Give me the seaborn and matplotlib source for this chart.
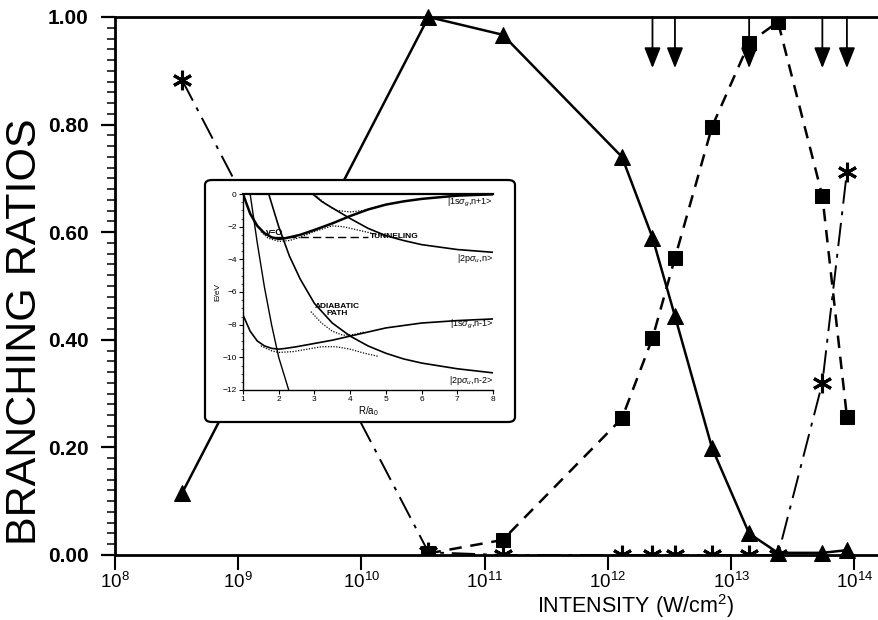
import matplotlib
matplotlib.use("Agg")
import matplotlib.pyplot as plt
import seaborn as sns
from matplotlib.patches import FancyBboxPatch
from matplotlib.ticker import MultipleLocator, LogFormatterMathtext, NullLocator, FixedLocator

# ---------------- main data ----------------
intensity = [3.5e8, 3.5e10, 1.4e11, 1.3e12, 2.3e12, 3.5e12, 7.0e12, 1.4e13, 2.4e13, 5.5e13, 8.7e13]
triangle_ratio = [0.115, 1.0, 0.967, 0.74, 0.59, 0.444, 0.199, 0.040, 0.004, 0.004, 0.009]
square_intensity = [3.5e10, 1.4e11, 1.3e12, 2.3e12, 3.5e12, 7.0e12, 1.4e13, 2.4e13, 5.5e13, 8.7e13]
square_ratio = [0.003, 0.028, 0.254, 0.403, 0.552, 0.796, 0.952, 0.991, 0.667, 0.257]
star_ratio = [0.883, 0.005, 0.0, 0.0, 0.0, 0.0, 0.0, 0.0, 0.0, 0.32, 0.712]
arrow_intensity = [2.3e12, 3.5e12, 1.4e13, 5.5e13, 8.7e13]
x_ticks = [1e8, 1e9, 1e10, 1e11, 1e12, 1e13, 1e14]
y_ticks = [0.0, 0.2, 0.4, 0.6, 0.8, 1.0]

# ---------------- inset data (R in a0, E in eV) ----------------
R_1sg_up = [1.0, 1.2, 1.4, 1.6, 1.8, 2.0, 2.2, 2.6, 3.0, 3.5, 4.0, 4.5, 5.0, 5.5, 6.0, 7.0, 8.0]
E_1sg_up = [0.0, -1.2, -1.95, -2.4, -2.65, -2.75, -2.7, -2.5, -2.2, -1.8, -1.35, -0.95, -0.65, -0.45, -0.3, -0.1, -0.02]
R_2pu_n = [2.95, 3.2, 3.5, 4.0, 4.5, 5.0, 5.5, 6.0, 7.0, 8.0]
E_2pu_n = [0.0, -0.45, -0.85, -1.5, -2.1, -2.55, -2.85, -3.1, -3.4, -3.57]
R_1sg_low = [1.0, 1.2, 1.4, 1.6, 1.8, 2.0, 2.2, 2.5, 3.0, 3.5, 4.0, 4.5, 5.0, 6.0, 7.0, 8.0]
E_1sg_low = [-7.4, -8.4, -9.0, -9.3, -9.45, -9.5, -9.45, -9.35, -9.15, -8.95, -8.7, -8.45, -8.2, -7.9, -7.75, -7.65]
R_2pu_n2 = [1.72, 2.0, 2.3, 2.6, 3.0, 3.5, 4.0, 4.5, 5.0, 5.5, 6.0, 7.0, 8.0]
E_2pu_n2 = [0.0, -2.0, -3.8, -5.2, -6.7, -7.9, -8.7, -9.3, -9.75, -10.1, -10.35, -10.7, -10.95]
R_steep = [1.2, 1.4, 1.6, 1.8, 2.0, 2.28]
E_steep = [0.0, -3.0, -5.7, -8.0, -10.0, -12.0]
R_dot_a = [3.0, 3.3, 3.6, 4.0, 4.4, 4.8, 5.2]
E_dot_a = [0.0, -0.6, -1.0, -1.1, -1.0, -0.75, -0.55]
R_dot_b = [1.5, 1.7, 2.0, 2.3, 2.6, 3.0, 3.5, 3.8, 4.2, 4.6, 5.0]
E_dot_b = [-2.3, -2.7, -2.9, -2.85, -2.65, -2.3, -1.95, -2.0, -2.2, -2.4, -2.6]
R_dot_c = [2.9, 3.2, 3.5, 3.8, 4.1, 4.4]
E_dot_c = [-7.2, -7.9, -8.4, -8.65, -8.6, -8.45]
R_dot_d = [1.5, 1.8, 2.0, 2.4, 2.8, 3.2, 3.6, 4.0, 4.4, 4.8]
E_dot_d = [-9.3, -9.6, -9.7, -9.65, -9.5, -9.35, -9.35, -9.5, -9.75, -9.95]
R_tunnel = [1.9, 4.5]
E_tunnel = [-2.65, -2.65]
state_labels = [r"|1s$\sigma_g$,n+1>", r"|2p$\sigma_u$,n>", r"|1s$\sigma_g$,n-1>", r"|2p$\sigma_u$,n-2>"]
state_label_E = [-0.5, -3.95, -8.0, -11.4]

# ---------------- figure ----------------
sns.set_theme(style="white")
plt.rcParams['font.family'] = ['Liberation Sans', 'DejaVu Sans']
plt.rcParams['mathtext.fontset'] = 'custom'
plt.rcParams['mathtext.rm'] = 'Liberation Sans'
plt.rcParams['mathtext.it'] = 'Liberation Sans:italic'
fig = plt.figure(figsize=(8.79, 6.20), dpi=100)
ax = fig.add_axes([115 / 879, 65 / 620, 764 / 879, 538 / 620])

sns.lineplot(x=intensity, y=triangle_ratio, ax=ax, color="black", marker="^", markersize=11,
             markeredgecolor="black", markerfacecolor="black", linewidth=1.8, sort=False,
             clip_on=False, zorder=4)
sns.lineplot(x=square_intensity, y=square_ratio, ax=ax, color="black", marker="s", markersize=10,
             markeredgecolor="black", markerfacecolor="black", linewidth=1.8,
             linestyle=(0, (5, 3.5)), sort=False, zorder=4)
sns.lineplot(x=intensity, y=star_ratio, ax=ax, color="black", marker=(6, 2, 0), markersize=14,
             markeredgecolor="black", markeredgewidth=2.2, linewidth=1.4,
             linestyle=(0, (12, 4, 2, 4)), sort=False, zorder=4)

for xa in arrow_intensity:
    ax.annotate("", xy=(xa, 0.905), xytext=(xa, 1.0), xycoords="data",
                arrowprops=dict(arrowstyle="-|>,head_length=0.7,head_width=0.28", color="black",
                                lw=1.3, mutation_scale=18, shrinkA=0, shrinkB=0),
                annotation_clip=False)

ax.set_xscale("log")
ax.set_xlim(1e8, 10 ** 14.2)
ax.set_ylim(0, 1.0)
ax.xaxis.set_major_locator(FixedLocator(x_ticks))
ax.xaxis.set_major_formatter(LogFormatterMathtext())
ax.xaxis.set_minor_locator(NullLocator())
ax.yaxis.set_major_locator(FixedLocator(y_ticks))
ax.yaxis.set_minor_locator(MultipleLocator(0.02))
ax.set_yticklabels([f"{v:.2f}" for v in y_ticks])
ax.tick_params(axis="x", which="major", direction="out", length=11, width=1.5, labelsize=13.5,
               pad=1, bottom=True, colors="black")
ax.tick_params(axis="y", which="major", direction="out", length=10, width=1.6, labelsize=15,
               pad=9, left=True, colors="black")
ax.tick_params(axis="y", which="minor", direction="out", length=6, width=1.3, left=True)
for lab in ax.get_yticklabels():
    lab.set_fontweight("bold")
ax.spines["right"].set_visible(False)
for s in ["left", "top", "bottom"]:
    ax.spines[s].set_visible(True)
    ax.spines[s].set_color("black")
    ax.spines[s].set_linewidth(2.0)
ax.set_facecolor("white")

ax.set_ylabel("BRANCHING RATIOS", fontsize=31, color="black")
ax.yaxis.set_label_coords(-0.092, 0.416)
ax.set_xlabel("INTENSITY (W/cm$^2$)", fontsize=15.5, color="black")
ax.xaxis.set_label_coords(0.682, -0.069)

# ---------------- inset ----------------
box = FancyBboxPatch((205 / 879, (620 - 422) / 620), 310 / 879, 242 / 620,
                     boxstyle="round,pad=0,rounding_size=0.008", transform=fig.transFigure,
                     facecolor="white", edgecolor="black", linewidth=1.6, zorder=5)
fig.patches.append(box)

axi = fig.add_axes([243 / 879, (620 - 390) / 620, 250 / 879, 196 / 620], zorder=6)
axi.patch.set_alpha(0)
solid_kw = dict(color="black", sort=False, ax=axi)
sns.lineplot(x=R_1sg_up, y=E_1sg_up, linewidth=1.8, **solid_kw)
sns.lineplot(x=R_2pu_n, y=E_2pu_n, linewidth=1.2, **solid_kw)
sns.lineplot(x=R_1sg_low, y=E_1sg_low, linewidth=1.2, **solid_kw)
sns.lineplot(x=R_2pu_n2, y=E_2pu_n2, linewidth=1.2, **solid_kw)
sns.lineplot(x=R_steep, y=E_steep, linewidth=1.0, **solid_kw)
for rr, ee in [(R_dot_a, E_dot_a), (R_dot_b, E_dot_b), (R_dot_c, E_dot_c), (R_dot_d, E_dot_d)]:
    sns.lineplot(x=rr, y=ee, linewidth=0.9, linestyle=(0, (1, 1.2)), **solid_kw)
sns.lineplot(x=R_tunnel, y=E_tunnel, linewidth=1.0, linestyle=(0, (6, 3)), **solid_kw)

axi.set_xlim(1, 8)
axi.set_ylim(-12, 0)
axi.xaxis.set_major_locator(MultipleLocator(1))
axi.yaxis.set_major_locator(MultipleLocator(2))
axi.yaxis.set_minor_locator(MultipleLocator(0.5))
axi.tick_params(axis="both", which="major", labelsize=6, length=3, width=0.8, direction="out",
                pad=1.5, colors="black", left=True, bottom=True)
axi.tick_params(axis="y", which="minor", length=1.5, width=0.6, direction="out", left=True)
axi.set_yticklabels([f"{int(v)}" if v == 0 else f"\u2212{int(-v)}" for v in axi.get_yticks()])
axi.spines["right"].set_visible(False)
for s in ["left", "bottom", "top"]:
    axi.spines[s].set_visible(True)
    axi.spines[s].set_color("black")
axi.spines["top"].set_linewidth(1.6)
axi.spines["left"].set_linewidth(1.0)
axi.spines["bottom"].set_linewidth(1.0)
axi.set_xlabel("R/a$_0$", fontsize=7, labelpad=1, color="black")
axi.set_ylabel("E/eV", fontsize=6, labelpad=1, color="black")

for lab, ev in zip(state_labels, state_label_E):
    axi.text(8.0, ev, lab, fontsize=6.5, ha="right", va="center", color="black")
axi.text(1.65, -2.35, "v=O", fontsize=6.5, ha="left", va="center", color="black", fontweight="bold")
axi.text(4.55, -2.6, "TUNNELING", fontsize=6, ha="left", va="center", color="black", fontweight="bold")
axi.text(3.65, -7.1, "ADIABATIC\nPATH", fontsize=6, ha="center", va="center", color="black",
         fontweight="bold", linespacing=1.1)

fig.savefig("out.png", dpi=100, facecolor="white")
